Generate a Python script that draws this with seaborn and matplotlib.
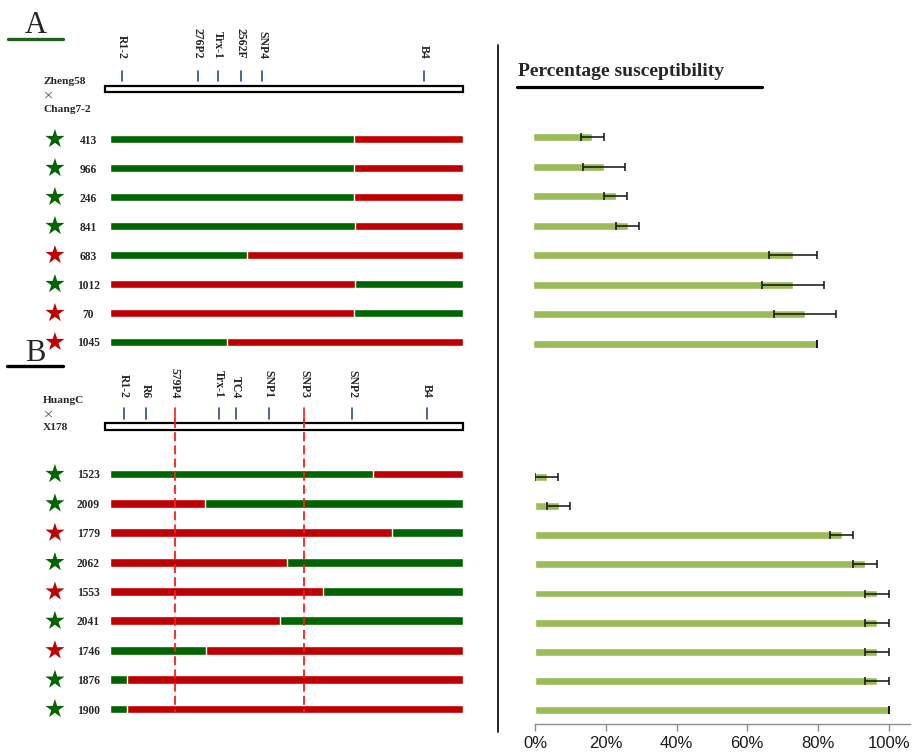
import numpy as np
import pandas as pd
import matplotlib.pyplot as plt
from matplotlib.lines import Line2D
from matplotlib.patches import Rectangle
from matplotlib.transforms import blended_transform_factory
import seaborn as sns

# ---- A: Zheng58 x Chang7-2
markers_a = ['R1-2', '276P2', 'Trx-1', '2562F', 'SNP4', 'B4']
marker_pos_a = [0.034, 0.249, 0.306, 0.371, 0.431, 0.890]
lines_a = ['413', '966', '246', '841', '683', '1012', '70', '1045']
first_a = ['G', 'G', 'G', 'G', 'G', 'R', 'R', 'G']   # genotype of left segment
break_a = [0.691, 0.691, 0.691, 0.694, 0.388, 0.694, 0.691, 0.331]
pheno_a = ['G', 'G', 'G', 'G', 'R', 'G', 'R', 'R']   # star colour
pct_a = [16.7, 20.0, 23.3, 26.7, 73.3, 73.3, 76.7, 80.0]
err_a = [3.3, 5.8, 3.3, 3.3, 6.7, 8.8, 8.8, 0.0]

# ---- B: HuangC x X178
markers_b = ['R1-2', 'R6', '579P4', 'Trx-1', 'TC4', 'SNP1', 'SNP3', 'SNP2', 'B4']
marker_pos_b = [0.040, 0.102, 0.184, 0.309, 0.357, 0.450, 0.550, 0.686, 0.898]
flank_b = ['579P4', 'SNP3']
lines_b = ['1523', '2009', '1779', '2062', '1553', '2041', '1746', '1876', '1900']
first_b = ['G', 'R', 'R', 'R', 'R', 'R', 'G', 'G', 'G']
break_b = [0.745, 0.269, 0.799, 0.501, 0.603, 0.482, 0.272, 0.048, 0.048]
pheno_b = ['G', 'G', 'R', 'G', 'R', 'G', 'R', 'G', 'G']
pct_b = [3.3, 6.7, 86.7, 93.3, 96.7, 96.7, 96.7, 96.7, 100.0]
err_b = [3.3, 3.3, 3.3, 3.3, 3.3, 3.3, 3.3, 3.3, 0.0]

geno_pal = {'G': '#006400', 'R': '#c00000'}
bar_green = '#9bbb59'
marker_blue = '#2a4a9a'

sns.set_style('white')
plt.rcParams['font.family'] = ['Liberation Serif', 'DejaVu Serif']

W, H = 917, 755
fig = plt.figure(figsize=(W / 100, H / 100), dpi=100)


def px_axes(x0, y0, x1, y1):
    return fig.add_axes([x0 / W, 1 - y1 / H, (x1 - x0) / W, (y1 - y0) / H])


def fy(y):
    return 1 - y / H


def draw_chrom(ax, lines, first, brk, pheno, ylim):
    other = {'G': 'R', 'R': 'G'}
    df = pd.DataFrame({'line': lines, 'first': first, 'brk': brk})
    df['end'] = 1.0
    df['second'] = df['first'].map(other)
    sns.barplot(data=df, x='end', y='line', hue='second', palette=geno_pal,
                dodge=False, width=0.30, saturation=1, errorbar=None,
                legend=False, orient='h', ax=ax)
    sns.barplot(data=df, x='brk', y='line', hue='first', palette=geno_pal,
                dodge=False, width=0.30, saturation=1, errorbar=None,
                legend=False, orient='h', ax=ax)
    sns.scatterplot(x=np.full(len(lines), -0.156), y=np.arange(len(lines)),
                    hue=pheno, palette=geno_pal, marker='*', s=210,
                    linewidth=0, legend=False, clip_on=False, zorder=4, ax=ax)
    ax.set_xlim(0, 1)
    ax.set_ylim(*ylim)
    ax.set_xlabel('')
    ax.set_ylabel('')
    ax.set_xticks([])
    ax.set_yticks(range(len(lines)))
    ax.set_yticklabels(lines, fontsize=8.3, fontweight='bold', ha='center')
    ax.tick_params(axis='y', length=0, pad=15.8)
    sns.despine(ax=ax, left=True, bottom=True)


def draw_map(ax, names, pos, box, tick, lab_bottom, flank=()):
    tr = blended_transform_factory(ax.transData, fig.transFigure)
    ax.add_patch(Rectangle((-0.014, fy(box[1])), 1.014, fy(box[0]) - fy(box[1]),
                           facecolor='white', edgecolor='black', lw=1.6,
                           transform=tr, clip_on=False, zorder=3))
    cols = ['#ff1a1a' if n in flank else marker_blue for n in names]
    for n, p, c in zip(names, pos, cols):
        ax.add_line(Line2D([p, p], [fy(tick[0]), fy(tick[1])], color=c, lw=1.2,
                           transform=tr, clip_on=False))
        ax.text(p, fy(lab_bottom), n, rotation=270, ha='center', va='bottom',
                fontsize=8.5, fontweight='bold', transform=tr)


# ---------- left panels
axA = px_axes(110, 20, 463, 357)
draw_chrom(axA, lines_a, first_a, break_a, pheno_a,
           ((357 - 139) / 29, (20 - 139) / 29))
draw_map(axA, markers_a, marker_pos_a, (86, 92), (71, 81), 59)

axB = px_axes(110, 365, 463, 724)
draw_chrom(axB, lines_b, first_b, break_b, pheno_b,
           ((724 - 474) / 29.375, (365 - 474) / 29.375))
draw_map(axB, markers_b, marker_pos_b, (423, 430), (408, 419), 398, flank_b)
trB = blended_transform_factory(axB.transData, fig.transFigure)
for n, p in zip(markers_b, marker_pos_b):
    if n in flank_b:
        axB.add_line(Line2D([p, p], [fy(419), fy(712)], color='#ff1a1a', lw=1.3,
                            ls=(0, (5, 2.3)), transform=trB, clip_on=False, zorder=5))

# cross labels
for txt, y in [('Zheng58', 81), ('Chang7-2', 110), ('HuangC', 400), ('X178', 428)]:
    fig.text(43 / W, fy(y), txt, fontsize=8.2, fontweight='bold',
             ha='left', va='center')
for y in [95, 414]:
    fig.text(43 / W, fy(y), '\u00d7', fontsize=9.5, ha='left', va='center',
             family='DejaVu Sans', fontweight='light')

# panel letters
fig.text(25 / W, fy(33), 'A', fontsize=22, ha='left', va='baseline')
fig.add_artist(Line2D([8 / W, 63 / W], [fy(39), fy(39)], color='#1f5f1f', lw=2.4))
fig.text(25 / W, fy(361), 'B', fontsize=22, ha='left', va='baseline')
fig.add_artist(Line2D([7 / W, 63 / W], [fy(366), fy(366)], color='black', lw=2.4))

# separator
fig.add_artist(Line2D([498 / W, 498 / W], [fy(45), fy(732)], color='black', lw=1.2))

# ---------- right panels
fig.text(518 / W, fy(71), 'Percentage susceptibility', fontsize=14,
         fontweight='bold', ha='left', va='center')
fig.add_artist(Line2D([517 / W, 762 / W], [fy(87), fy(87)], color='black', lw=2.3))


def draw_pct(ax, lines, pct, err, ylim):
    df = pd.DataFrame({'line': lines, 'pct': pct, 'err': err})
    sns.barplot(data=df, x='pct', y='line', color=bar_green, saturation=1,
                width=0.27, errorbar=None, orient='h', ax=ax)
    ax.errorbar(df['pct'], np.arange(len(df)), xerr=df['err'], fmt='none',
                ecolor='#111111', elinewidth=1.1, capsize=2.8, capthick=1.1)
    ax.set_xlim(0, 106)
    ax.set_ylim(*ylim)
    ax.set_xlabel('')
    ax.set_ylabel('')
    ax.set_yticks([])


axRA = px_axes(533, 122, 909, 359)
draw_pct(axRA, lines_a, pct_a, err_a, ((359 - 137) / 29.57, (122 - 137) / 29.57))
axRA.set_xticks([])
sns.despine(ax=axRA, left=True, bottom=True)

axRB = px_axes(535, 462, 910, 724)
draw_pct(axRB, lines_b, pct_b, err_b, ((724 - 477) / 29.125, (462 - 477) / 29.125))
sns.despine(ax=axRB, left=True)
axRB.spines['bottom'].set_color('#8c8c8c')
axRB.spines['bottom'].set_linewidth(1.0)
ticks = [0, 20, 40, 60, 80, 100]
axRB.set_xticks(ticks)
axRB.set_xticklabels([f'{t}%' for t in ticks], fontfamily='Liberation Sans',
                     fontsize=12, color='#1a1a1a')
axRB.tick_params(axis='x', direction='out', length=5, width=1.0,
                 color='#8c8c8c', pad=4, bottom=True)

fig.savefig('out.png', dpi=100)
